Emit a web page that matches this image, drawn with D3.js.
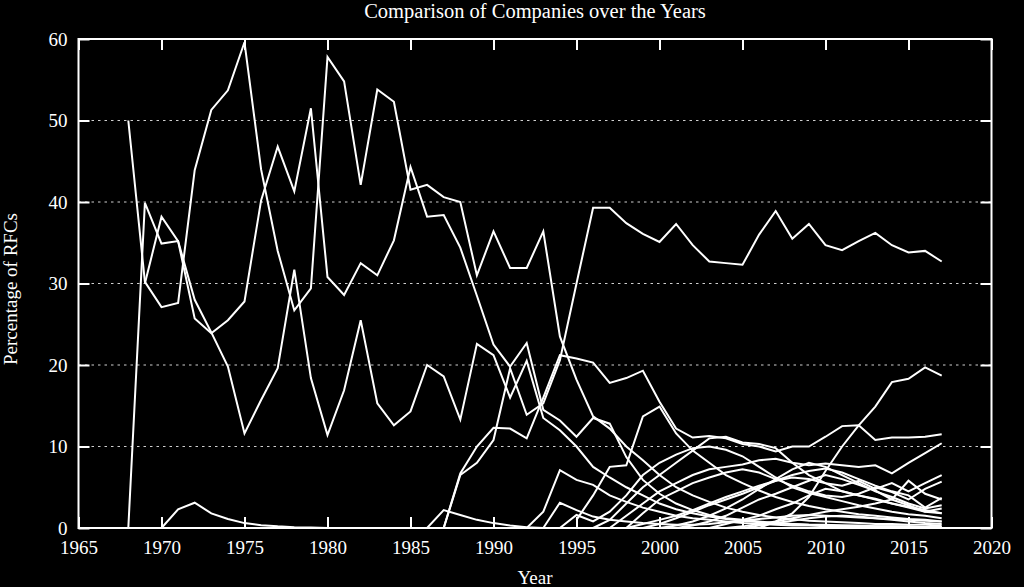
<!DOCTYPE html>
<meta charset="utf-8">
<style>
body { margin: 0; background: #000; }
svg { display: block; background: #000; }
text { font-family: "Liberation Serif", "DejaVu Serif", serif; fill: #fff; }
.axis path { display: none; }
.axis line { stroke: #fff; stroke-width: 2; }
.axis text { font-size: 19px; }
.grid line { stroke: #cfcfcf; stroke-width: 1; stroke-dasharray: 2.5,4; }
.series path { fill: none; stroke: #fff; stroke-width: 2; stroke-linejoin: miter; }
</style>
<body>
<script src="https://d3js.org/d3.v7.min.js"></script>
<script>
var width = 1024
var height = 587

var xTicks = [1965, 1970, 1975, 1980, 1985, 1990, 1995, 2000, 2005, 2010, 2015, 2020]
var yTicks = [0, 10, 20, 30, 40, 50, 60]

// percentage of RFCs per company, one value per year from its start year
var companyA = [50, 30.2, 27.1, 27.6, 43.9, 51.3, 53.7, 59.6, 44, 34,
    26.7, 29.4, 57.8, 54.8, 42.1, 53.8, 52.3, 41.5, 42.1, 40.6,
    40, 31, 36.4, 31.9, 31.9, 36.4, 23.5, 18.2, 13.7, 12.2,
    10, 8.3, 6.5, 5, 4, 3.2, 2.5, 2, 1.6, 1.3,
    1.1, 0.9, 0.8, 0.7, 0.6, 0.5, 0.5, 0.4, 0.4, 0.3]
var companyB = [0, 39.9, 34.9, 35.2, 25.7, 23.9, 25.5, 27.8, 40.2, 46.8,
    41.3, 51.5, 30.8, 28.6, 32.5, 31, 35.3, 44.3, 38.2, 38.4,
    34.4, 28.5, 22.5, 19.8, 22.7, 14.5, 13.2, 11.2, 13.5, 12.8,
    8.7, 5.9, 4.2, 3, 2.2, 1.6, 1.2, 1, 0.8, 0.6,
    0.5, 0.4, 0.4, 0.3, 0.3, 0.2, 0.2, 0.2, 0.1, 0.1]
var companyC = [30, 38.2, 35.2, 28, 24, 19.8, 11.6, 15.7, 19.6,
    31.7, 18.4, 11.4, 16.9, 25.5, 15.3, 12.6, 14.3, 20, 18.6,
    13.3, 22.6, 21.2, 16, 20.5, 13.5, 12, 10, 7.5, 6.2,
    5, 4, 3, 2.3, 1.8, 1.4, 1.1, 0.9, 0.7, 0.6,
    0.5, 0.4, 0.35, 0.3, 0.25, 0.2, 0.2, 0.15, 0.1, 0.1]
var companyL = [0, 2.3, 3.1, 1.8, 1.1, 0.6, 0.35, 0.2, 0.1, 0.05,
    0, 0, 0, 0, 0, 0, 0, 2.2, 1.6, 1, 0.6, 0.3, 0.1, 0, 0]
var companyR1 = [0, 6.7, 10, 12.3, 12.2, 11, 16, 21.2, 20.8, 20.3,
    17.8, 18.4, 19.3, 15.5, 12.2, 11.1, 11.3, 11, 10.3, 10,
    9.4, 10, 10, 11.2, 12.5, 12.6, 10.8, 11.1, 11.1, 11.2, 11.5]
var companyR2 = [0, 6.5, 8, 10.8, 19.6, 13.9, 15.3, 20.6, 30, 39.3,
    39.3, 37.4, 36.1, 35.1, 37.3, 34.7, 32.7, 32.5, 32.3, 36,
    38.9, 35.5, 37.3, 34.7, 34.1, 35.2, 36.2, 34.7, 33.8, 34, 32.7]
var companyT1 = [0, 2, 7.1, 5.9, 5.3, 4, 3.2, 2.5, 2, 1.5, 1.2, 1, 0.8,
    0.6, 0.5, 0.4, 0.3, 0.3, 0.2, 0.2, 0.2, 0.1, 0.1, 0.1, 0.1, 0.1]
var companyT2 = [0, 3.1, 2.2, 1.4, 1, 0.8, 0.6, 0.5, 0.4, 0.4, 0.5, 0.7,
    0.9, 1.1, 1.3, 1.5, 1.6, 1.5, 1.4, 1.3, 1.2, 1.1, 1, 0.9, 0.8]
var companyT3 = [0, 1.6, 0.8, 2, 4, 6.5, 8, 9, 9.8, 10, 9.6, 8.8, 7.5,
    6.2, 5, 4.3, 3.8, 3.3, 2.8, 2.4, 2, 1.7, 1.5, 1.2]
var companyP = [1, 4, 7.5, 7.7, 13.7, 14.9, 11.6, 9.5, 8, 6.5, 5.5, 4.6,
    3.8, 3.2, 2.7, 2.3, 2, 1.7, 1.5, 1.3, 1.1, 1, 0.8]
var companyQ = [0, 1, 3, 5, 6.5, 8, 9.5, 11, 11.2, 10.5, 10.3, 9.8, 8,
    6.5, 5.5, 4.5, 4, 3.5, 3, 2.5, 2, 1.8]
var companyT4 = [0, 1.5, 3, 4.5, 5.5, 6.5, 7.2, 7.5, 7.8, 8.3, 8.5, 8,
    7.7, 7.9, 7.7, 7.5, 7.7, 6.7, 8, 9.2, 10.4]
var companyT5 = [0, 0.5, 1, 1.5, 2.2, 3, 3.8, 4.5, 5.2, 5.8, 6.2, 6,
    5.5, 5.2, 5.8, 4.8, 5.5, 4.5, 5.5, 6.5]
var companyT6 = [0, 1.8, 3.5, 4.5, 5.5, 6.2, 6.8, 7.2, 6.8, 6, 5.2, 4.5,
    4, 3.8, 4.2, 5, 4.4, 3.5, 4.8, 5.7]
var companyT7 = [0, 0.5, 1.2, 2, 2.8, 3.5, 4.2, 5, 5.8, 6.5, 7, 7.3,
    6.8, 6, 5.2, 4.5, 4, 2.5, 3.7]
var companyT8 = [0, 0.3, 0.8, 1.5, 2.4, 3.5, 4.8, 6, 7.2, 8, 7.5, 6.5,
    5.5, 4.5, 3.8, 3, 2.4, 2.8]
var companyT9 = [0, 0.3, 0.8, 1.5, 2.5, 3.5, 4.2, 5, 5.8, 6.5, 6, 5.3,
    4.6, 3.5, 2.8, 2, 2.4]
var companyT10 = [0, 0.5, 1, 1.5, 2.3, 3, 4, 4.8, 4.5, 4, 3.6, 3, 2.6, 2.2, 1.8]
var companyT11 = [0, 0.2, 0.5, 0.8, 1.2, 1.6, 2, 2.3, 2.6, 3, 3.5, 5.8, 4.2, 3.5]
var companyT12 = [0, 0.3, 0.6, 0.9, 1.2, 1.4, 1.5, 1.4, 1.2, 1, 0.8, 0.6, 0.5]
var companyLate = [0, 0.8, 1.8, 3.8, 7, 10, 12.6, 14.9, 17.9, 18.3, 19.7, 18.7]

var startYears = [1968, 1968, 1969, 1970, 1987, 1987, 1992, 1993, 1994, 1995,
    1996, 1997, 1998, 1998, 1999, 2000, 2001, 2003, 2004, 2005, 2006]
var valueLists = [companyA, companyB, companyC, companyL, companyR1, companyR2,
    companyT1, companyT2, companyT3, companyP, companyQ, companyT4, companyT5,
    companyT6, companyT7, companyT8, companyT9, companyT10, companyT11,
    companyT12, companyLate]

var series = valueLists.map(function (vals, i) {
    return vals.map(function (v, j) { return { year: startYears[i] + j, value: v } })
})

var x = d3.scaleLinear().domain([1965, 2020]).range([78.5, 991.5])
var y = d3.scaleLinear().domain([0, 60]).range([528, 39])

var svg = d3.select('body')
    .append('svg')
    .attr('width', width)
    .attr('height', height)

svg.append('g')
    .attr('class', 'grid')
    .selectAll('line')
    .data(yTicks.filter(function (d) { return d > 0 && d < 60 }))
    .enter().append('line')
    .attr('x1', x(1965))
    .attr('x2', x(2020))
    .attr('y1', function (d) { return y(d) })
    .attr('y2', function (d) { return y(d) })

var line = d3.line()
    .x(function (d) { return x(d.year) })
    .y(function (d) { return y(d.value) })

svg.append('g')
    .attr('class', 'series')
    .selectAll('path')
    .data(series)
    .enter().append('path')
    .attr('d', line)

svg.append('g')
    .attr('class', 'axis')
    .attr('transform', 'translate(0,528)')
    .call(d3.axisBottom(x).tickValues(xTicks).tickFormat(d3.format('d'))
        .tickSizeInner(-11).tickSizeOuter(0).tickPadding(13))

svg.append('g')
    .attr('class', 'axis')
    .attr('transform', 'translate(0,39)')
    .call(d3.axisTop(x).tickValues(xTicks).tickFormat('')
        .tickSizeInner(-11).tickSizeOuter(0))

svg.append('g')
    .attr('class', 'axis')
    .attr('transform', 'translate(78.5,0)')
    .call(d3.axisLeft(y).tickValues(yTicks)
        .tickSizeInner(-11).tickSizeOuter(0).tickPadding(11))

svg.append('g')
    .attr('class', 'axis')
    .attr('transform', 'translate(991.5,0)')
    .call(d3.axisRight(y).tickValues(yTicks).tickFormat('')
        .tickSizeInner(-11).tickSizeOuter(0))

svg.append('rect')
    .attr('x', x(1965))
    .attr('y', y(60))
    .attr('width', x(2020) - x(1965))
    .attr('height', y(0) - y(60))
    .attr('fill', 'none')
    .attr('stroke', '#fff')
    .attr('stroke-width', 2)

svg.append('text')
    .attr('x', 535)
    .attr('y', 18)
    .attr('text-anchor', 'middle')
    .style('font-size', '20.5px')
    .text('Comparison of Companies over the Years')

svg.append('text')
    .attr('x', 535)
    .attr('y', 584)
    .attr('text-anchor', 'middle')
    .style('font-size', '19px')
    .text('Year')

svg.append('text')
    .attr('transform', 'translate(17,289) rotate(-90)')
    .attr('text-anchor', 'middle')
    .style('font-size', '19px')
    .text('Percentage of RFCs')
</script>
</body>
